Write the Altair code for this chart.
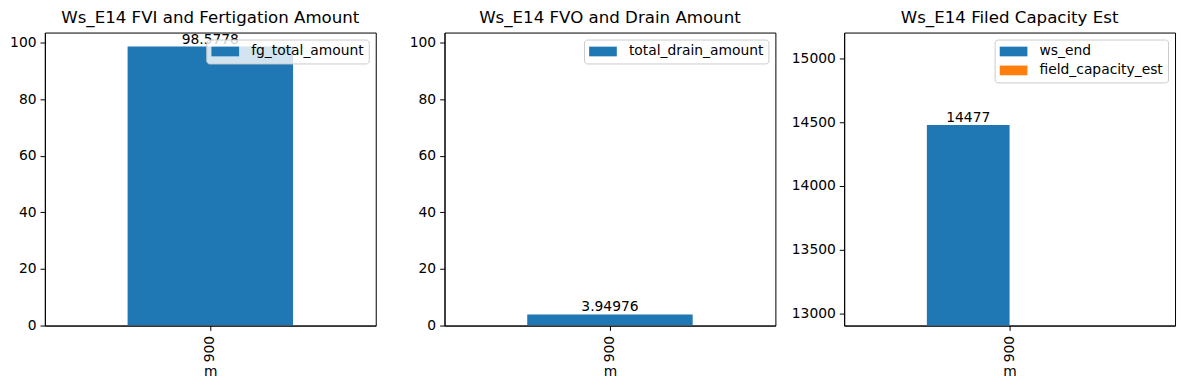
import altair as alt
import pandas as pd

# ---- data ----
m_vals = ["900"]
fg_total_amount = [98.5778]
total_drain_amount = [3.94976]
ws_end = [14477]
field_capacity_est = [None]

titles = [
    "Ws_E14 FVI and Fertigation Amount",
    "Ws_E14 FVO and Drain Amount",
    "Ws_E14 Filed Capacity Est",
]
y_ticks_a = [0, 20, 40, 60, 80, 100]
y_ticks_b = [13000, 13500, 14000, 14500, 15000]

FONT = "DejaVu Sans"
W, H = 332, 294
BLUE, ORANGE = "#1f77b4", "#ff7f0e"
FS = 13.9
TICK = 4.86


def x_enc():
    return alt.X(
        "m:N",
        scale=alt.Scale(paddingInner=0, paddingOuter=0.5),
        axis=alt.Axis(title="m", labelAngle=270, labelPadding=5, titlePadding=3),
    )


def legend():
    return alt.Legend(
        title=None,
        orient="top-right",
        offset=7,
        fillColor="rgba(255,255,255,0.8)",
        strokeColor="#cccccc",
        cornerRadius=3,
        padding=5,
        symbolType="M-2,-0.7H2V0.7H-2Z",
        symbolSize=193,
        symbolStrokeWidth=0,
        symbolOpacity=1,
        symbolOffset=7,
        labelOffset=19,
        labelFont=FONT,
        labelFontSize=FS,
        labelColor="black",
        rowPadding=5,
    )


def simple_panel(series_name, values, domain, title):
    df = pd.DataFrame({"m": m_vals, "series": [series_name] * len(m_vals), "value": values})
    base = alt.Chart(df).encode(
        x=x_enc(),
        y=alt.Y(
            "value:Q",
            scale=alt.Scale(domain=domain, nice=False, zero=False),
            axis=alt.Axis(values=y_ticks_a, title=None),
        ),
    )
    bars = base.mark_bar(clip=True).encode(
        color=alt.Color(
            "series:N",
            scale=alt.Scale(domain=[series_name], range=[BLUE]),
            legend=legend(),
        )
    )
    text = base.mark_text(baseline="alphabetic", dy=-3, font=FONT, fontSize=FS, color="black").encode(
        text=alt.Text("value:Q", format=".6~g")
    )
    return alt.layer(bars, text).properties(width=W, height=H, title=title)


p1 = simple_panel("fg_total_amount", fg_total_amount, [0, 103.5], titles[0])
p2 = simple_panel("total_drain_amount", total_drain_amount, [0, 103.5], titles[1])

series3 = ["ws_end", "field_capacity_est"]
rows = []
for i, m in enumerate(m_vals):
    rows.append({"m": m, "series": "ws_end", "value": ws_end[i]})
    rows.append({"m": m, "series": "field_capacity_est", "value": field_capacity_est[i]})
df3 = pd.DataFrame(rows)

base3 = alt.Chart(df3).encode(
    x=x_enc(),
    xOffset=alt.XOffset("series:N", scale=alt.Scale(domain=series3, paddingInner=0, paddingOuter=0)),
    y=alt.Y(
        "value:Q",
        scale=alt.Scale(domain=[12904, 15203], nice=False, zero=False),
        axis=alt.Axis(values=y_ticks_b, title=None, format="d"),
    ),
)
bars3 = base3.mark_bar(clip=True).encode(
    color=alt.Color(
        "series:N",
        scale=alt.Scale(domain=series3, range=[BLUE, ORANGE]),
        legend=legend(),
    )
)
text3 = base3.mark_text(baseline="alphabetic", dy=-3, font=FONT, fontSize=FS, color="black").encode(
    text=alt.Text("value:Q", format=".6~g")
)
p3 = alt.layer(bars3, text3).properties(width=W, height=H, title=titles[2])

chart = (
    alt.hconcat(p1, p2, p3, spacing=69, bounds="flush")
    .resolve_scale(color="independent", x="independent", y="independent", xOffset="independent")
    .resolve_legend(color="independent")
    .properties(padding={"left": 1, "top": 0, "right": 5, "bottom": 5})
    .configure_view(stroke="black", strokeWidth=1)
    .configure_axis(
        labelFont=FONT,
        titleFont=FONT,
        labelFontSize=FS,
        titleFontSize=FS,
        titleFontWeight="normal",
        labelColor="black",
        titleColor="black",
        domainColor="black",
        tickColor="black",
        tickSize=TICK,
        labelPadding=4,
        grid=False,
    )
    .configure_title(font=FONT, fontSize=16.7, fontWeight="normal", color="black",
                     baseline="alphabetic", offset=6)
)

chart.save("out.html", embed_options={"renderer": "svg", "actions": False})
